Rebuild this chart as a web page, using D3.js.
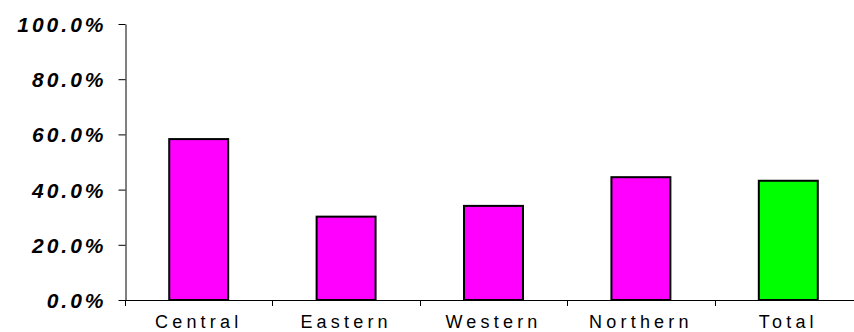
<!DOCTYPE html>
<html><head><meta charset="utf-8">
<script src="https://cdn.jsdelivr.net/npm/d3@7"></script>
<style>
html,body{margin:0;padding:0;background:#fff;overflow:hidden;}
svg{display:block;}
</style></head>
<body>
<svg id="c" width="854" height="332"></svg>
<script>
const categories = ["Central","Eastern","Western","Northern","Total"];
const values = [0.583, 0.302, 0.341, 0.445, 0.432];
const barColors = ["#FF00FF","#FF00FF","#FF00FF","#FF00FF","#00FF00"];
const yTicks = [0, 0.2, 0.4, 0.6, 0.8, 1.0];

(function(){
const svg = d3.select("#c");
const mLeft = 125, mRight = 862, mTop = 24, mBottom = 300;

const x = d3.scaleBand().domain(categories).range([mLeft, mRight]).paddingInner(0.6).paddingOuter(0.3);
const y = d3.scaleLinear().domain([0, 1]).range([mBottom, mTop]);
const step = x.step();

svg.selectAll("rect.bar").data(categories).join("rect")
  .attr("class","bar")
  .attr("x", d => x(d))
  .attr("width", x.bandwidth())
  .attr("y", (d,i) => y(values[i]))
  .attr("height", (d,i) => y(0) - y(values[i]))
  .attr("fill", (d,i) => barColors[i])
  .attr("stroke", "#000")
  .attr("stroke-width", 2);

const yAxis = d3.axisLeft(y).tickValues(yTicks).tickFormat(d3.format(".1%")).tickSize(7).tickSizeOuter(0);
const gy = svg.append("g").attr("transform", `translate(${mLeft+0.5},0)`).call(yAxis);
gy.select(".domain").attr("stroke","#000");
gy.selectAll(".tick line").attr("stroke","#000");
gy.selectAll(".tick text")
  .attr("font-family","'Liberation Sans', Arial, sans-serif")
  .attr("font-size", 21).attr("font-weight","bold").attr("font-style","italic")
  .attr("letter-spacing", "3px")
  .attr("fill","#000").attr("x", -19).attr("dy","0.36em");

const xAxis = d3.axisBottom(x).tickSize(0).tickSizeOuter(0);
const gx = svg.append("g").attr("transform", `translate(0,${mBottom+0.5})`).call(xAxis);
gx.select(".domain").remove();
gx.selectAll(".tick text")
  .attr("font-family","'Liberation Sans', Arial, sans-serif")
  .attr("font-size", 18).attr("letter-spacing","4.2px")
  .attr("fill","#000").attr("y", 15).attr("dy","0.71em");

svg.append("line").attr("x1", mLeft).attr("x2", mRight).attr("y1", mBottom+0.5).attr("y2", mBottom+0.5).attr("stroke","#000");
const bounds = categories.map(d => x(d) - step*x.paddingOuter()).concat([mRight]);
svg.selectAll("line.bt").data(bounds).join("line").attr("class","bt")
  .attr("x1", d => Math.round(d)+0.5).attr("x2", d => Math.round(d)+0.5)
  .attr("y1", mBottom).attr("y2", mBottom+6).attr("stroke","#000");
})();
</script>
</body></html>
